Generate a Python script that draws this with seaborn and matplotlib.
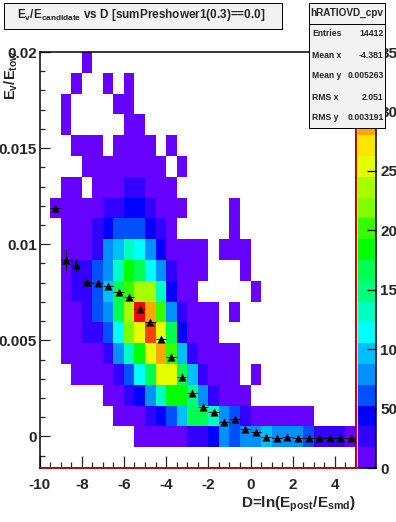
import numpy as np
import pandas as pd
import matplotlib
matplotlib.use("Agg")
import matplotlib.pyplot as plt
from matplotlib.colors import ListedColormap, BoundaryNorm
from matplotlib.patches import Rectangle
from matplotlib.ticker import MultipleLocator
import seaborn as sns

# counts per cell, top row first, 0 = empty
row_00 = [0,0,0,0,8,0,0,0,0,0, 0,0,0,0,0,0,0,0,0,0, 0,0,0,0,0,0,0,0,0,0]
row_01 = [0,0,0,8,0,0,8,0,8,0, 0,0,0,0,0,0,0,0,0,0, 0,0,0,0,0,0,0,0,0,0]
row_02 = [0,0,8,0,0,0,0,8,8,0, 0,0,0,0,0,0,0,0,0,0, 0,0,0,0,0,0,0,0,0,0]
row_03 = [0,0,8,0,0,0,0,0,8,8, 0,0,0,0,0,0,0,0,0,0, 0,0,0,0,0,0,0,0,0,0]
row_04 = [0,0,0,8,8,8,0,8,8,8, 8,0,8,0,0,0,0,0,0,0, 0,0,0,0,0,0,0,0,0,0]
row_05 = [0,0,0,0,8,8,8,8,8,8, 8,8,0,8,0,0,0,0,0,0, 0,0,0,0,0,0,0,0,0,0]
row_06 = [0,0,8,8,0,8,8,8,26,26, 8,8,8,0,0,0,0,0,0,0, 0,0,0,0,0,0,0,0,0,0]
row_07 = [0,8,8,8,8,8,26,26,43,43, 26,8,8,8,0,0,0,0,8,0, 0,0,0,0,0,0,0,0,0,0]
row_08 = [0,0,8,8,8,26,43,61,61,61, 43,26,8,0,0,0,0,0,8,0, 0,0,0,0,0,0,0,0,0,0]
row_09 = [0,0,8,8,8,26,78,96,131,113, 78,43,8,8,8,8,0,8,8,8, 0,0,0,0,0,0,0,0,0,0]
row_10 = [0,0,8,26,26,61,78,131,183,166, 113,78,26,8,8,8,0,0,0,8, 0,0,0,0,0,0,0,0,0,0]
row_11 = [0,0,8,26,26,61,96,166,201,236, 236,131,43,8,8,0,0,0,0,0, 8,0,0,0,0,0,0,0,0,0]
row_12 = [0,0,8,8,26,61,78,166,236,323, 288,201,78,26,8,8,8,0,8,0, 0,0,0,0,0,0,0,0,0,0]
row_13 = [0,0,8,8,26,26,61,113,218,253, 306,253,166,43,8,8,8,0,0,0, 0,0,0,0,0,0,0,0,0,0]
row_14 = [0,0,8,8,8,8,26,78,131,183, 253,288,201,96,26,8,8,8,8,0, 0,0,0,0,0,0,0,0,0,0]
row_15 = [0,0,0,8,8,8,8,26,61,113, 166,253,253,166,96,26,8,8,8,0, 8,0,0,0,0,0,0,0,0,0]
row_16 = [0,0,0,0,0,0,8,8,26,43, 78,131,183,183,148,78,26,8,8,8, 0,0,0,0,0,0,0,0,0,0]
row_17 = [0,0,0,0,0,0,0,8,8,8, 26,43,61,96,166,166,131,78,61,26, 8,8,8,8,8,8,0,0,0,0]
row_18 = [0,0,0,0,0,0,0,0,0,8, 8,8,8,8,26,26,43,78,61,78, 78,96,78,78,78,61,26,26,26,8]
row_19 = [0]*30

band_colors = ["#6600ff","#3300ff","#0000ff","#0050ff","#0090ff","#00bfff","#00ffff",
               "#00ffc0","#00ff80","#00ff50","#00ff00","#33ff00","#80ff00","#a6ff00",
               "#e6ff00","#ffe600","#ffa600","#ff4000","#ff0000","#ff0000"]
z_ticks = [0,50,100,150,200,250,300,350]

# profile on top of the histogram
prof_x = [-9.25,-8.75,-8.25,-7.75,-7.25,-6.75,-6.25,-5.75,-5.25,-4.75,-4.25,-3.75,-3.25,-2.75,-2.25,
          -1.75,-1.25,-0.75,-0.25,0.25,0.75,1.25,1.75,2.25,2.75,3.25,3.75,4.25,4.75]
prof_y = [0.01189,0.00916,0.00893,0.00806,0.00796,0.00785,0.00749,0.00725,0.00664,0.00598,0.00509,
          0.00412,0.00311,0.00225,0.00155,0.00126,0.00074,0.00089,0.00039,0.00022,-0.00001,-0.00006,
          -0.00004,-0.0001,-0.0001,-0.0001,-0.0001,-0.0001,-0.0001]
prof_err = [0.00005,0.0006,0.00033,0.00008,0.00006,0.00005,0.00005,0.00005,0.00005,0.00005,0.00005,
            0.00005,0.00005,0.00005,0.00005,0.00005,0.00005,0.00005,0.00004,0.00004,0.00003,0.00003,
            0.00003,0.00003,0.00003,0.00003,0.00003,0.00003,0.00003]

stat_names = ["Entries","Mean x","Mean y","RMS x","RMS y"]
stat_vals = ["14412","-4.381","0.005263","2.051","0.003191"]

sns.set_style("white")
plt.rcParams['font.family'] = ['Liberation Sans', 'DejaVu Sans']
plt.rcParams['font.weight'] = 'bold'
plt.rcParams['mathtext.fontset'] = 'custom'
plt.rcParams['mathtext.bf'] = 'Liberation Sans:bold'
plt.rcParams['mathtext.rm'] = 'Liberation Sans:bold'

W, H = 396, 522
fig = plt.figure(figsize=(W/100, H/100), dpi=100, facecolor="white")
L, R, T, B = 39.5, 356, 52, 468
pos = [L/W, 1-B/H, (R-L)/W, (B-T)/H]
ax = fig.add_axes(pos)
cax = fig.add_axes([358/W, 1-B/H, 18.3/W, (B-T)/H])

df = pd.DataFrame([row_00,row_01,row_02,row_03,row_04,row_05,row_06,row_07,row_08,row_09,
                   row_10,row_11,row_12,row_13,row_14,row_15,row_16,row_17,row_18,row_19])
cmap = ListedColormap(band_colors)
norm = BoundaryNorm(np.linspace(0, 350, 21), 20)
sns.heatmap(df, mask=df == 0, cmap=cmap, norm=norm, ax=ax, cbar_ax=cax,
            xticklabels=False, yticklabels=False, cbar_kws={'ticks': z_ticks})
cb = ax.collections[0].colorbar
cb.outline.set_visible(False)
cb.minorticks_off()
cax.tick_params(axis='y', length=0, right=True, left=False, labelsize=11, pad=3)
# short inner ticks on the colour bar
cax.hlines(z_ticks, 0.47, 1, color='k', lw=0.9, zorder=5, clip_on=False)
for s in ['right', 'bottom']:
    cax.spines[s].set_visible(True)
    cax.spines[s].set_color('k')
    cax.spines[s].set_linewidth(1.1)

# real axes on top of the heatmap cells
ax2 = fig.add_axes(pos, facecolor='none')
ax2.set_xlim(-10, 5)
ax2.set_ylim(-0.00164, 0.02)
ax2.errorbar(prof_x, prof_y, xerr=0.25, yerr=prof_err, fmt='none', ecolor='k', elinewidth=0.7, capsize=0)
sns.scatterplot(x=prof_x, y=prof_y, marker='^', s=34, color='k', linewidth=0, ax=ax2, zorder=5)
ax2.xaxis.set_minor_locator(MultipleLocator(0.5))
ax2.yaxis.set_minor_locator(MultipleLocator(0.001))
ax2.set_xticks([-10,-8,-6,-4,-2,0,2,4])
ax2.set_xticklabels(['-10','-8','-6','-4','-2','0','2','4'])
ax2.set_yticks([0,0.005,0.01,0.015,0.02])
ax2.set_yticklabels(['0','0.005','0.01','0.015','0.02'])
ax2.tick_params(axis='x', which='major', direction='in', length=8.5, width=0.9, labelsize=11, pad=7, bottom=True)
ax2.tick_params(axis='x', which='minor', direction='in', length=4.3, width=0.9, bottom=True)
ax2.tick_params(axis='y', which='major', direction='in', length=7.5, width=0.9, labelsize=11, pad=2, left=True)
ax2.tick_params(axis='y', which='minor', direction='in', length=3.8, width=0.9, left=True)
for s in ax2.spines.values():
    s.set_visible(True)
    s.set_color('k')
    s.set_linewidth(1.1)
ax2.axhline(-0.00164, color='#e00000', lw=1.1, zorder=6, clip_on=False)
ax2.axvline(5, color='#e00000', lw=0.9, zorder=6, clip_on=False)

# overlay in pixel coordinates for the title and stats panels
top = fig.add_axes([0, 0, 1, 1], facecolor='none', zorder=10)
top.set_xlim(0, W)
top.set_ylim(H, 0)
top.axis('off')
top.add_patch(Rectangle((5, 4), 278, 26, fc='k', ec='none'))
top.add_patch(Rectangle((3.5, 2.5), 278, 26, fc='#f2f2f2', ec='k', lw=0.7))
top.text(141.5, 15, r"$\mathbf{E_{v}/E_{candidate}}$ vs D [sumPreshower1(0.3)==0.0]",
         ha='center', va='center', fontsize=8.5)
top.add_patch(Rectangle((309.5, 3.5), 76.5, 125, fc='k', ec='none'))
top.add_patch(Rectangle((308.5, 2.5), 76.5, 125, fc='#f2f2f2', ec='k', lw=0.7))
top.plot([308.5, 385], [23.5, 23.5], color='k', lw=0.7)
top.text(347, 13, "hRATIOVD_cpv", ha='center', va='center', fontsize=7.2)
for name, val, yy in zip(stat_names, stat_vals, [34, 55, 75, 97, 117]):
    top.text(312.5, yy, name, ha='left', va='center', fontsize=6.2)
    top.text(383.5, yy, val, ha='right', va='center', fontsize=6.2)
top.text(11, 100, r"$\mathbf{E_{v}/E_{tow}}$", rotation=90, ha='center', va='bottom', fontsize=10.5)
top.text(356, 508, r"D=ln(E$\mathbf{_{post}}$/E$\mathbf{_{smd}}$)", ha='right', va='baseline', fontsize=11)

fig.savefig("out.png", dpi=100)
